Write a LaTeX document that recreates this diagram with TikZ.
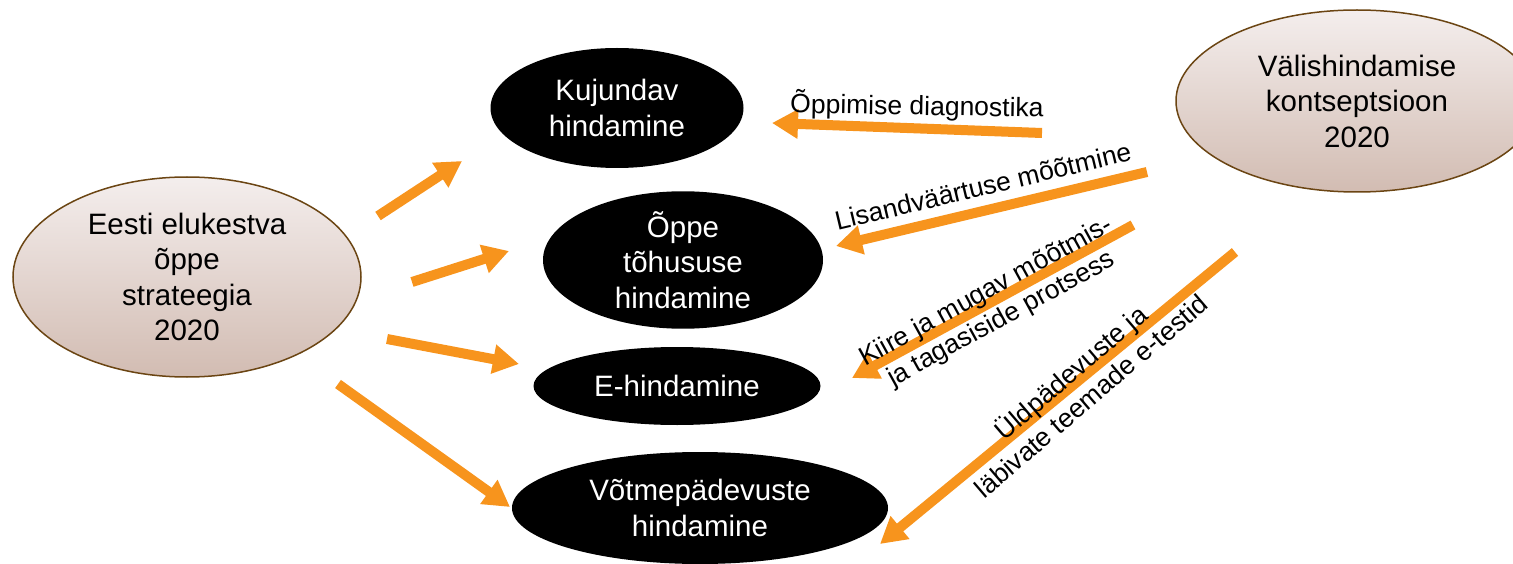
\documentclass[tikz,border=0pt]{standalone}
\usepackage{fontspec}
\setmainfont{Liberation Sans}
\usetikzlibrary{shapes.geometric,arrows.meta}
\definecolor{arrorange}{HTML}{F7941D}
\definecolor{brownline}{HTML}{6B4513}
\definecolor{paletop}{HTML}{F4EEED}
\definecolor{palebot}{HTML}{D2BCB2}
\newcommand{\bigf}{\fontsize{29.5}{35.5}\selectfont}
\newcommand{\lblf}{\fontsize{26.5}{31}\selectfont}
\tikzset{
  pale/.style={ellipse, draw=brownline, line width=1.5pt, top color=paletop, bottom color=palebot, inner sep=0pt, align=center, font=\bigf, text=black},
  dark/.style={ellipse, fill=black, text=white, inner sep=0pt, align=center, font=\bigf},
  arr/.style={draw=arrorange, line width=10pt, -{Triangle[length=26pt,width=28pt]}},
  lbl/.style={font=\lblf, align=center, inner sep=0pt, text=black}
}
\begin{document}
\begin{tikzpicture}[x=1pt,y=-1pt]
\path[use as bounding box] (0,0) rectangle (1513,564);
\clip (0,0) rectangle (1513,564);
% source ellipses
\node[pale, minimum width=348pt, minimum height=200pt] (strat) at (187,277) {Eesti elukestva\\õppe\\strateegia\\2020};
\node[pale, minimum width=362pt, minimum height=182pt] (konts) at (1357,101) {Välishindamise\\kontseptsioon\\2020};
% target ellipses
\node[dark, minimum width=253pt, minimum height=120pt] (kuj) at (617,108) {Kujundav\\hindamine};
\node[dark, minimum width=280pt, minimum height=116pt] (toh) at (683,260) {Õppe\\tõhususe\\hindamine};
\node[dark, minimum width=287pt, minimum height=78pt] (ehin) at (677,386) {E-hindamine};
\node[dark, minimum width=376pt, minimum height=112pt] (vot) at (700,508) {Võtmepädevuste\\hindamine};
% arrow end points
\coordinate (l1s) at (378,216); \coordinate (l1e) at (462,161);
\coordinate (l2s) at (412,282); \coordinate (l2e) at (509,251);
\coordinate (l3s) at (387,339); \coordinate (l3e) at (519,364);
\coordinate (l4s) at (338,384); \coordinate (l4e) at (510,507);
\coordinate (r1s) at (1042,133); \coordinate (r1e) at (772,123);
\coordinate (r2s) at (1147,172); \coordinate (r2e) at (836,246);
\coordinate (r3s) at (1133,225); \coordinate (r3e) at (852,378);
\coordinate (r4s) at (1235,252); \coordinate (r4e) at (880,544);
\draw[arr] (l1s) -- (l1e);
\draw[arr] (l2s) -- (l2e);
\draw[arr] (l3s) -- (l3e);
\draw[arr] (l4s) -- (l4e);
\draw[arr] (r1s) -- (r1e);
\draw[arr] (r2s) -- (r2e);
\draw[arr] (r3s) -- (r3e);
\draw[arr] (r4s) -- (r4e);
% labels
\node[lbl, rotate=-1] (lab1) at (917,106) {Õppimise diagnostika};
\node[lbl, rotate=13.4] (lab2) at (983,186) {Lisandväärtuse mõõtmine};
\node[lbl, rotate=28.8] (lab3) at (994,306) {Kiire ja mugav mõõtmis-\\ja tagasiside protsess};
\node[lbl, rotate=40.5] (lab4) at (1080,383) {Üldpädevuste ja\\läbivate teemade e-testid};
\end{tikzpicture}
\end{document}
